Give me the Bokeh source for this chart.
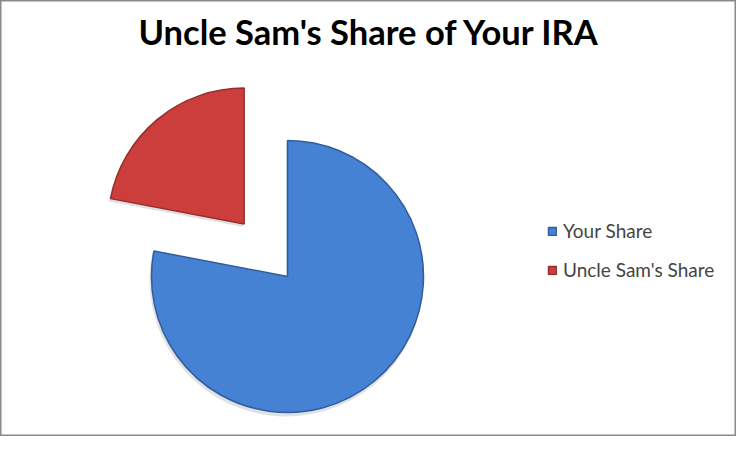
import numpy as np
from bokeh.plotting import figure
from bokeh.models import Range1d, Legend, LegendItem, ColumnDataSource
from bokeh.embed import file_html
from bokeh.resources import INLINE
from bokeh.core.properties import value

# ---- data ----
title_text = "Uncle Sam's Share of Your IRA"
categories = ["Your Share", "Uncle Sam's Share"]
shares = [78, 22]
colors = ["#4682D3", "#CC3E3C"]
edge_colors = ["#2F5D9F", "#962D2B"]

# ---- layout constants ----
W, H = 736, 436
CX, CY, R = 287, 160, 136
EXPLODE = [0.0, 0.5]

frac = np.array(shares, dtype=float) / sum(shares)
cum = np.concatenate([[0], np.cumsum(frac)])
end_a = np.pi / 2 - 2 * np.pi * cum[:-1]
start_a = np.pi / 2 - 2 * np.pi * cum[1:]
mid = (start_a + end_a) / 2
xs = CX + np.array(EXPLODE) * R * np.cos(mid)
ys = CY + np.array(EXPLODE) * R * np.sin(mid)

src = ColumnDataSource(dict(x=xs, y=ys, start=start_a, end=end_a,
                            color=colors, edge=edge_colors, cat=categories))
shadow = ColumnDataSource(dict(x=xs - 1, y=ys - 3, start=start_a, end=end_a))

p = figure(width=W, height=H, x_range=Range1d(0, W), y_range=Range1d(0, H),
           output_backend="svg", toolbar_location=None, min_border=0,
           x_axis_location=None, y_axis_location=None)
p.grid.visible = False
p.outline_line_color = "#8a8a8a"
p.outline_line_width = 2
p.background_fill_color = "white"
p.border_fill_color = "white"

p.wedge(x="x", y="y", radius=R + 1, start_angle="start", end_angle="end",
        source=shadow, fill_color="#aaaaaa", fill_alpha=0.35, line_color=None)
r = p.wedge(x="x", y="y", radius=R, start_angle="start", end_angle="end",
            source=src, fill_color="color", line_color="edge", line_width=1.5)

p.text(x=[369], y=[405], text=[title_text], text_font=value("Lato"),
       text_font_style="bold", text_font_size="34.5px", text_align="center",
       text_baseline="alphabetic", text_color="black")

legend = Legend(items=[LegendItem(label=c, renderers=[r], index=i)
                       for i, c in enumerate(categories)],
                location=(547, 155), glyph_width=10, glyph_height=10,
                label_height=20, spacing=16, padding=0, margin=0,
                label_standoff=6, label_text_font="Lato",
                label_text_font_size="19px", border_line_color=None,
                background_fill_alpha=0)
p.add_layout(legend)

open("out.html", "w").write(file_html(p, INLINE))
